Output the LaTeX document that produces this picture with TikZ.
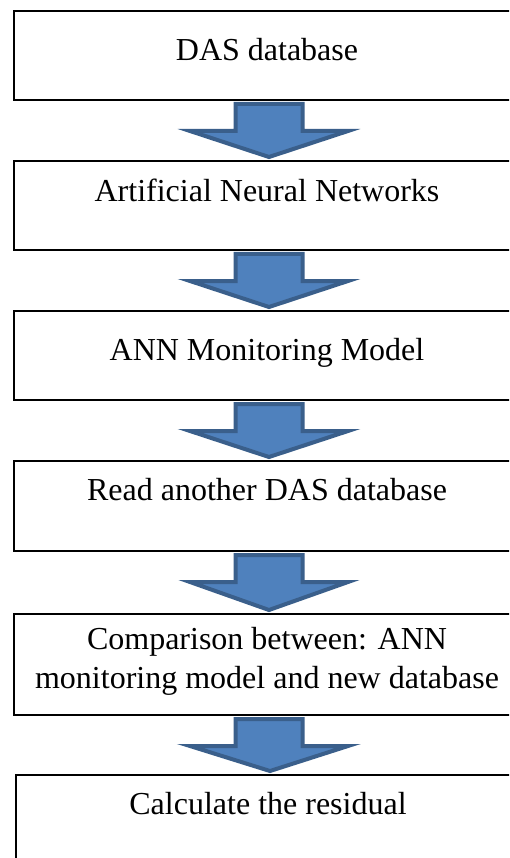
\documentclass[tikz,border=0pt]{standalone}
\usepackage{fontspec}
\setmainfont{Liberation Serif}
\usetikzlibrary{calc}
\definecolor{arrowfill}{HTML}{4F81BD}
\definecolor{arrowline}{HTML}{3A5F8B}
\tikzset{
  box/.style={draw=black, line width=2pt, fill=white, inner sep=0pt, anchor=north west, minimum width=510pt},
  lbl/.style={anchor=base, inner sep=0pt, font=\fontsize{32}{39}\selectfont},
  bigarrow/.style={fill=arrowfill, draw=arrowline, line width=4pt, line join=miter}
}
\newcommand\flowarrow[2]{%
  \draw[bigarrow] ($(#1.south)+(-33.5,3)$) -- ($(#1.south)+(33.5,3)$) -- ($(#1.south)+(33.5,30)$)
    -- ($(#1.south)+(79,30)$) -- ($(#2.north)+(0,-3)$) -- ($(#1.south)+(-79,30)$)
    -- ($(#1.south)+(-33.5,30)$) -- cycle;}
\begin{document}
\begin{tikzpicture}[x=1pt, y=-1pt]
\useasboundingbox (0,0) rectangle (509,858);
\clip (0,0) rectangle (509,858);
\fill[white] (0,0) rectangle (509,858);
\node[box, minimum height=89pt] (b1) at (13,10) {};
\node[box, minimum height=89pt] (b2) at (13,160) {};
\node[box, minimum height=89pt] (b3) at (13,310) {};
\node[box, minimum height=90pt] (b4) at (13,460) {};
\node[box, minimum height=101pt] (b5) at (13,613) {};
\node[box, minimum height=110pt, minimum width=508pt] (b6) at (15,774) {};
\node[lbl] (t1) at ($(b1.north)+(-2,51)$) {DAS database};
\node[lbl] (t2) at ($(b2.north)+(-2,42)$) {Artificial Neural Networks};
\node[lbl] (t3) at ($(b3.north)+(-2,50)$) {ANN Monitoring Model};
\node[lbl] (t4) at ($(b4.north)+(-2,40)$) {Read another DAS database};
\node[lbl] (t5a) at ($(b5.north)+(-2,36)$) {Comparison between: ANN};
\node[lbl] (t5b) at ($(b5.north)+(-2,75)$) {monitoring model and new database};
\node[lbl] (t6) at ($(b6.north)+(-2,40)$) {Calculate the residual};
\flowarrow{b1}{b2}
\flowarrow{b2}{b3}
\flowarrow{b3}{b4}
\flowarrow{b4}{b5}
\flowarrow{b5}{b6}
\end{tikzpicture}
\end{document}
